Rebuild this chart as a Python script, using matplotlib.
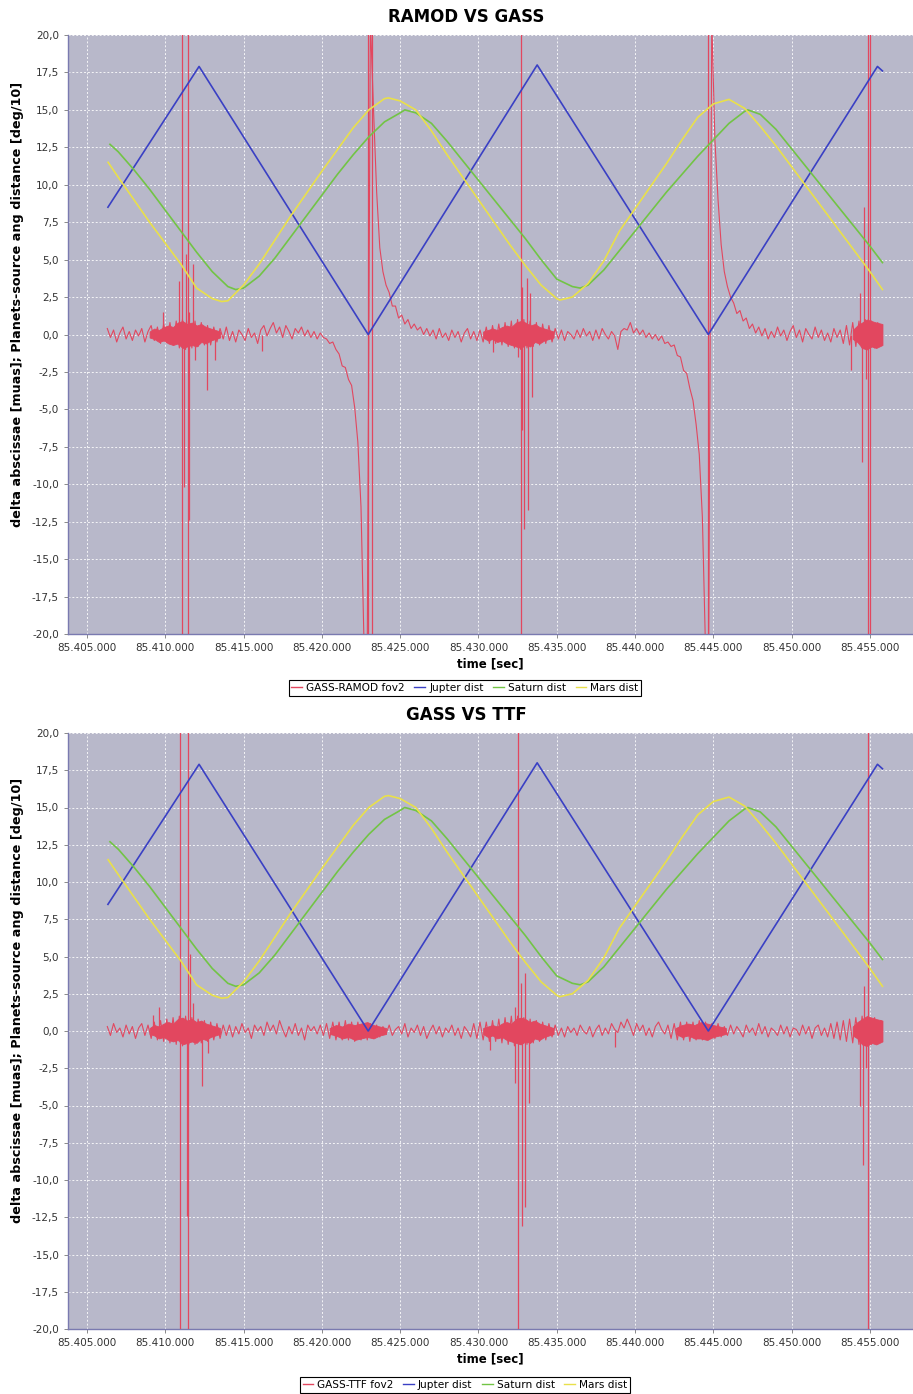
import numpy as np
import matplotlib
matplotlib.use("Agg")
import matplotlib.pyplot as plt
from matplotlib.ticker import FuncFormatter, MultipleLocator
from matplotlib.lines import Line2D

# ------------------------------------------------------------------
# data (time in sec, values in muas or deg/10)
# ------------------------------------------------------------------
jup_t = [85406.34, 85412.16, 85422.96, 85433.75, 85444.68, 85455.48, 85455.80]
jup_v = [8.5, 17.9, 0.0, 18.0, 0.0, 17.9, 17.6]

mars_t = [85406.35, 85407, 85408, 85409, 85410, 85411, 85412, 85413, 85413.6,
          85414, 85415, 85416, 85417, 85418, 85419, 85420, 85421, 85422, 85423,
          85424, 85424.25, 85425, 85426, 85427, 85428, 85429, 85430, 85431,
          85432, 85433, 85434, 85435, 85435.2, 85436, 85437, 85438, 85439,
          85440, 85441, 85442, 85443, 85444, 85445, 85446, 85447, 85448,
          85449, 85450, 85451, 85452, 85453, 85454, 85455, 85455.8]
mars_v = [11.5, 10.5, 9.0, 7.5, 6.1, 4.7, 3.1, 2.4, 2.2,
          2.25, 3.3, 4.7, 6.3, 7.9, 9.4, 10.9, 12.35, 13.8, 15.0,
          15.75, 15.8, 15.6, 15.0, 13.6, 12.0, 10.5, 9.0, 7.5,
          6.0, 4.6, 3.3, 2.4, 2.3, 2.5, 3.4, 4.9, 6.9,
          8.4, 9.9, 11.4, 13.0, 14.5, 15.4, 15.7, 15.1, 13.9,
          12.6, 11.2, 9.8, 8.4, 7.0, 5.6, 4.2, 3.0]

sat_t = [85406.47, 85407, 85408, 85409, 85410, 85411, 85412, 85413, 85414, 85414.5,
         85415, 85416, 85417, 85418, 85419, 85420, 85421, 85422, 85423, 85424,
         85425, 85425.3, 85426, 85427, 85428, 85429, 85430, 85431, 85432, 85433,
         85434, 85435, 85436, 85436.5, 85437, 85438, 85439, 85440, 85441, 85442,
         85443, 85444, 85445, 85446, 85447, 85447.2, 85448, 85449, 85450, 85451,
         85452, 85453, 85454, 85455, 85455.8]
sat_v = [12.7, 12.2, 11.0, 9.7, 8.3, 6.9, 5.5, 4.2, 3.2, 3.0,
         3.1, 3.9, 5.1, 6.5, 7.9, 9.3, 10.7, 12.0, 13.2, 14.2,
         14.8, 15.0, 14.8, 14.1, 12.9, 11.6, 10.3, 9.0, 7.7, 6.4,
         5.0, 3.7, 3.2, 3.1, 3.3, 4.3, 5.6, 6.9, 8.2, 9.5,
         10.7, 11.9, 13.0, 14.1, 14.9, 15.0, 14.7, 13.7, 12.4, 11.1,
         9.8, 8.5, 7.2, 5.9, 4.8]

# red residual series, sampled every 0.2 s from red_t0
red_t0 = 85406.3
red_dt = 0.2

ramod_v = [
    0.4, -0.2, 0.3, -0.5, 0.1, 0.5, -0.3, 0.2, -0.4, 0.3,
    -0.1, 0.4, -0.5, 0.2, 0.6, -0.4, 0.5, -0.6, 0.7, -0.5,
    0.8, -0.7, 0.9, -0.9, 1.0, -1.0, 1.1, -0.9, 0.9, -0.8,
    0.8, -0.7, 0.6, -0.7, 0.5, -0.5, 0.4, -0.3, 0.5, -0.4,
    0.2, -0.5, 0.3, 0.0, -0.4, 0.4, -0.2, 0.1, -0.6, 0.3,
    0.6, -0.1, 0.4, 0.8, 0.1, 0.5, -0.2, 0.6, 0.2, -0.3,
    0.4, 0.1, 0.5, -0.1, 0.3, -0.2, 0.2, -0.3, 0.1, -0.2,
    -0.3, -0.6, -0.5, -1.0, -1.3, -2.1, -2.2, -3.0, -3.4, -4.9,
    -7.2, -11.5, -21.0, -21.0, 21.0, 15.0, 9.5, 5.8, 4.2, 3.3,
    2.8, 1.9, 1.9, 1.1, 1.3, 0.7, 1.0, 0.4, 0.7, 0.3,
    0.5, 0.0, 0.4, -0.1, 0.3, -0.3, 0.4, -0.2, 0.1, -0.4,
    0.3, -0.2, 0.2, -0.5, 0.1, 0.4, -0.3, 0.2, -0.4, 0.3,
    -0.5, 0.5, -0.6, 0.6, -0.6, 0.7, -0.7, 0.8, -0.8, 0.9,
    -0.9, 1.0, -1.0, 1.0, -0.9, 0.9, -0.8, 0.8, -0.7, 0.7,
    -0.6, 0.6, -0.5, 0.4, -0.3, 0.3, -0.4, 0.2, 0.0, -0.3,
    0.3, -0.2, 0.4, -0.1, 0.2, -0.4, 0.3, -0.3, 0.4, 0.0,
    -0.3, 0.2, -0.1, -1.0, 0.2, 0.4, 0.3, 0.8, 0.1, 0.4,
    0.0, 0.3, -0.2, 0.1, -0.3, 0.0, -0.4, -0.1, -0.6, -0.5,
    -0.8, -0.7, -1.4, -1.5, -2.4, -2.6, -3.6, -4.4, -6.0, -8.0,
    -12.2, -21.0, -21.0, 21.0, 13.0, 9.0, 6.0, 4.2, 3.2, 2.5,
    2.1, 1.4, 1.6, 0.9, 1.1, 0.4, 0.7, 0.1, 0.5, -0.1,
    0.4, -0.3, 0.2, -0.2, 0.5, -0.1, 0.3, -0.4, 0.2, 0.6,
    -0.2, 0.3, -0.5, 0.4, 0.0, -0.3, 0.5, -0.2, 0.3, -0.4,
    0.1, -0.5, 0.4, -0.2, 0.3, -0.6, 0.6, -0.7, 0.8, -0.8,
    0.9, -0.9, 1.0, -1.0, 0.9, -0.9, 0.8, -0.7,
]

ttf_v = [
    0.3, -0.3, 0.5, -0.1, 0.2, -0.4, 0.4, -0.2, 0.3, -0.5,
    0.2, 0.5, -0.3, 0.4, -0.5, 0.6, -0.6, 0.7, -0.7, 0.8,
    -0.8, 0.9, -0.9, 1.0, -1.0, 1.0, -0.9, 0.9, -0.9, 0.8,
    -0.8, 0.7, -0.7, 0.6, -0.6, 0.5, -0.5, 0.4, -0.3, 0.4,
    -0.4, 0.3, -0.2, 0.5, -0.1, 0.2, -0.5, 0.4, 0.0, 0.3,
    -0.3, 0.6, 0.0, 0.4, -0.2, 0.7, 0.1, -0.4, 0.3, -0.2,
    0.5, -0.3, 0.2, -0.6, 0.4, 0.0, 0.3, -0.2, 0.4, -0.3,
    0.5, -0.5, 0.6, -0.6, 0.6, -0.6, 0.7, -0.6, 0.6, -0.7,
    0.6, -0.6, 0.5, -0.6, 0.5, -0.5, 0.4, -0.4, 0.3, -0.2,
    0.4, -0.3, 0.1, 0.3, -0.2, 0.5, -0.4, 0.2, -0.1, 0.4,
    -0.3, 0.3, -0.5, 0.0, 0.4, -0.2, 0.3, -0.4, 0.2, -0.1,
    0.4, -0.3, 0.2, -0.5, 0.3, 0.0, -0.4, 0.5, -0.5, 0.6,
    -0.6, 0.6, -0.7, 0.7, -0.7, 0.8, -0.8, 0.9, -0.9, 1.0,
    -1.0, 1.0, -0.9, 0.9, -0.9, 0.8, -0.8, 0.7, -0.7, 0.6,
    -0.6, 0.5, -0.4, 0.4, -0.3, 0.2, -0.4, 0.3, -0.1, 0.2,
    -0.3, 0.4, 0.0, -0.2, 0.3, -0.4, 0.1, 0.4, -0.3, 0.2,
    -0.2, 0.5, 0.1, -0.1, 0.6, 0.2, 0.8, 0.3, -0.3, 0.5,
    0.0, 0.4, -0.3, 0.2, -0.4, 0.3, 0.6, 0.1, -0.2, 0.4,
    -0.5, 0.5, -0.6, 0.6, -0.6, 0.6, -0.7, 0.6, -0.6, 0.7,
    -0.6, 0.6, -0.6, 0.5, -0.5, 0.5, -0.4, 0.3, -0.3, 0.4,
    -0.2, 0.3, 0.0, -0.4, 0.4, -0.1, 0.2, -0.3, 0.5, -0.2,
    0.3, -0.4, 0.2, 0.0, -0.3, 0.4, -0.2, 0.3, -0.4, 0.2,
    0.1, -0.3, 0.4, -0.2, 0.3, -0.5, 0.2, 0.4, -0.3, 0.2,
    -0.4, 0.5, -0.5, 0.6, -0.6, 0.7, -0.7, 0.8, -0.8, 0.9,
    -0.9, 1.0, -1.0, 1.0, -0.9, 0.9, -0.8, 0.7,
]

# dense high-frequency parts of the red series: time, upper and lower edge
burst1_t = [85409.0, 85409.3, 85409.6, 85409.9, 85410.2, 85410.5, 85410.8, 85411.1,
            85411.4, 85411.7, 85412.0, 85412.3, 85412.6, 85412.9, 85413.2, 85413.5]
burst1_hi = [0.2, 0.4, 0.3, 0.5, 0.6, 0.5, 0.8, 0.9, 0.7, 0.8, 0.6, 0.7, 0.5, 0.4, 0.3, 0.2]
burst1_lo = [-0.2, -0.3, -0.5, -0.4, -0.6, -0.7, -0.6, -0.9, -0.8, -0.7, -0.8, -0.5,
             -0.6, -0.4, -0.3, -0.2]
burst2_t = [85430.3, 85430.6, 85430.9, 85431.2, 85431.5, 85431.8, 85432.1, 85432.4,
            85432.7, 85433.0, 85433.3, 85433.6, 85433.9, 85434.2, 85434.5, 85434.8]
burst2_hi = [0.2, 0.3, 0.4, 0.3, 0.5, 0.6, 0.5, 0.8, 0.9, 0.8, 0.6, 0.7, 0.5, 0.4, 0.3, 0.2]
burst2_lo = [-0.2, -0.4, -0.3, -0.5, -0.4, -0.6, -0.7, -0.8, -0.9, -0.7, -0.8, -0.5,
             -0.6, -0.4, -0.3, -0.2]
burst3_t = [85453.9, 85454.2, 85454.5, 85454.8, 85455.1, 85455.4, 85455.8]
burst3_hi = [0.3, 0.6, 0.8, 1.0, 0.9, 0.8, 0.7]
burst3_lo = [-0.3, -0.5, -0.9, -1.0, -0.8, -0.9, -0.7]
# GASS-TTF only: denser noise near the Jupiter minima
trough1_t = [85420.5, 85420.9, 85421.3, 85421.7, 85422.1, 85422.5, 85422.9, 85423.3,
             85423.7, 85424.1]
trough1_hi = [0.2, 0.4, 0.3, 0.5, 0.4, 0.5, 0.6, 0.4, 0.3, 0.2]
trough1_lo = [-0.2, -0.3, -0.5, -0.4, -0.6, -0.5, -0.4, -0.5, -0.3, -0.2]
trough2_t = [85442.6, 85443.0, 85443.4, 85443.8, 85444.2, 85444.6, 85445.0, 85445.4,
             85445.8]
trough2_hi = [0.2, 0.4, 0.5, 0.4, 0.6, 0.5, 0.4, 0.3, 0.2]
trough2_lo = [-0.2, -0.4, -0.3, -0.5, -0.5, -0.6, -0.4, -0.3, -0.2]

# single spikes of the red series: time, low end, high end
ramod_spk_t = [85411.10, 85411.45, 85409.85, 85410.90, 85411.30, 85411.75, 85411.50,
               85411.20, 85411.50, 85412.65, 85413.20, 85411.90, 85416.20,
               85422.96, 85423.20,
               85432.73, 85432.80, 85433.10, 85433.30, 85432.90, 85433.15,
               85433.40, 85432.54, 85430.90,
               85444.68,
               85454.90, 85455.00, 85454.60, 85454.35, 85454.75, 85453.80, 85454.50]
ramod_spk_lo = [-21, -21, 0, 0, 0, 0, 0,
                -10.2, -12.4, -3.7, -1.7, -1.7, -1.1,
                -21, -21,
                -21, -6.4, 0, 0, -13.0, -11.7,
                -4.2, -1.5, -1.2,
                -21,
                -21, -21, 0, 0, -3.0, -2.4, -8.5]
ramod_spk_hi = [21, 21, 1.5, 3.6, 5.4, 4.7, 1.5,
                0, 0, 0, 0, 0, 0,
                21, 21,
                21, 3.2, 3.8, 2.8, 0, 0,
                0, 0, 0,
                21,
                21, 21, 8.5, 2.8, 0, 0, 0]

ttf_spk_t = [85410.95, 85411.45, 85411.55, 85409.60, 85409.20, 85411.80, 85411.40,
             85412.35, 85412.70,
             85432.52, 85432.70, 85433.00, 85432.35, 85432.80, 85432.98, 85433.20,
             85430.75, 85438.70,
             85454.90, 85454.60, 85454.55, 85454.35, 85454.75]
ttf_spk_lo = [-21, -21, 0, 0, 0, 0, -12.4,
              -3.7, -1.5,
              -21, 0, 0, -3.5, -13.1, -11.8, -4.8,
              -1.3, -1.1,
              -21, 0, -9.0, -5.0, -2.5]
ttf_spk_hi = [21, 21, 5.2, 1.6, 1.1, 1.9, 0,
              0, 0,
              21, 3.2, 3.9, 1.6, 0, 0, 0,
              0, 0,
              21, 3.0, 0, 0, 0]

panel_titles = ["RAMOD VS GASS", "GASS VS TTF"]
red_labels = ["GASS-RAMOD fov2", "GASS-TTF fov2"]
planet_labels = ["Jupter dist", "Saturn dist", "Mars dist"]
x_ticks = [85405, 85410, 85415, 85420, 85425, 85430, 85435, 85440, 85445, 85450, 85455]

# ------------------------------------------------------------------
c_red = "#e2475f"
c_blue = "#3a40c4"
c_green = "#72c445"
c_yellow = "#e9e04a"
c_bg = "#b8b8ca"

W, H = 913, 1394
fig = plt.figure(figsize=(W / 100, H / 100), dpi=100)
plt.rcParams['font.family'] = ['DejaVu Sans']

bursts = [(burst1_t, burst1_lo, burst1_hi), (burst2_t, burst2_lo, burst2_hi),
          (burst3_t, burst3_lo, burst3_hi)]
troughs = [(trough1_t, trough1_lo, trough1_hi), (trough2_t, trough2_lo, trough2_hi)]

# axes boxes in pixels: left, top, right, bottom
boxes = [(68, 35, 913, 634), (68, 733, 913, 1329)]
red_series = [ramod_v, ttf_v]
bands = [bursts, bursts + troughs]
spikes = [(ramod_spk_t, ramod_spk_lo, ramod_spk_hi), (ttf_spk_t, ttf_spk_lo, ttf_spk_hi)]
title_y = [17, 715]
legend_y = [688, 1385]
ylabel_y = [304, 1000]

for i in range(2):
    l, t, r, b = boxes[i]
    ax = fig.add_axes([l / W, 1 - b / H, (r - l) / W, (b - t) / H])
    ax.set_facecolor(c_bg)

    red_t = red_t0 + red_dt * np.arange(len(red_series[i]))
    ax.plot(red_t, red_series[i], color=c_red, lw=0.8, zorder=3)
    for bt, blo, bhi in bands[i]:
        ax.fill_between(bt, blo, bhi, color=c_red, lw=0.6, edgecolor=c_red, zorder=3)
    st, slo, shi = spikes[i]
    ax.vlines(st, slo, shi, color=c_red, lw=0.9, zorder=3)
    ax.plot(jup_t, jup_v, color=c_blue, lw=1.2, zorder=4)
    ax.plot(sat_t, sat_v, color=c_green, lw=1.2, zorder=4)
    ax.plot(mars_t, mars_v, color=c_yellow, lw=1.2, zorder=4)

    ax.set_xlim(85403.79, 85457.75)
    ax.set_ylim(-20, 20)
    ax.set_xticks(x_ticks)
    ax.yaxis.set_major_locator(MultipleLocator(2.5))
    ax.xaxis.set_major_formatter(FuncFormatter(lambda v, p: f"{v:,.3f}".replace(",", ".")))
    ax.yaxis.set_major_formatter(FuncFormatter(lambda v, p: f"{v:.1f}".replace(".", ",")))
    ax.tick_params(labelsize=7.5, labelcolor="#333333", color="#777777", length=3, width=0.6)
    ax.grid(True, color="white", ls=(0, (2, 2)), lw=0.7, alpha=0.85, zorder=1)
    ax.set_axisbelow(True)
    for side in ["left", "bottom"]:
        ax.spines[side].set_color("#7a7ab0")
        ax.spines[side].set_linewidth(1.0)
    for side in ["top", "right"]:
        ax.spines[side].set_visible(False)

    ax.set_xlabel("time [sec]", fontsize=8.5, fontweight="bold", labelpad=3)
    fig.text(18 / W, 1 - ylabel_y[i] / H,
             "delta abscissae [muas]; Planets-source ang distance [deg/10]",
             rotation=90, ha="center", va="center", fontsize=9.2, fontweight="bold")
    fig.text(466 / W, 1 - title_y[i] / H, panel_titles[i], ha="center", va="center",
             fontsize=12, fontweight="bold")

    handles = [Line2D([], [], color=c, lw=1) for c in [c_red, c_blue, c_green, c_yellow]]
    leg = fig.legend(handles, [red_labels[i]] + planet_labels, loc="center",
                     bbox_to_anchor=(465 / W, 1 - legend_y[i] / H), ncol=4, fontsize=7.6,
                     frameon=True, fancybox=False, edgecolor="black", framealpha=1,
                     handlelength=1.0, handletextpad=0.4, columnspacing=0.9,
                     borderpad=0.25)
    leg.get_frame().set_linewidth(0.8)

fig.savefig("out.png", dpi=100)
